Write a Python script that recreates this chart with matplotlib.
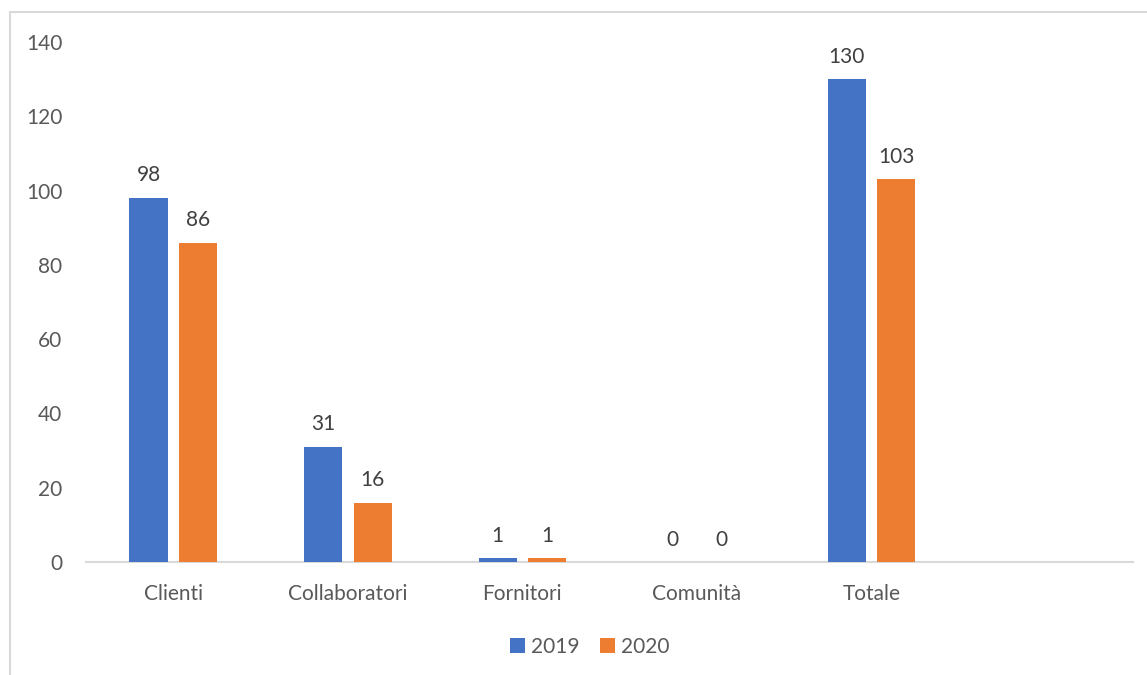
import matplotlib.pyplot as plt
import matplotlib.patches as patches
import numpy as np

# categories (last slot is empty, as in the original chart)
categories = ["Clienti", "Collaboratori", "Fornitori", "Comunità", "Totale", ""]
values_2019 = [98, 31, 1, 0, 130, None]
values_2020 = [86, 16, 1, 0, 103, None]
series_names = ["2019", "2020"]

plt.rcParams['font.family'] = ['Lato', 'DejaVu Sans']
text_col = '#595959'
blue = '#4472C4'
orange = '#ED7D31'
fs = 15

fig = plt.figure(figsize=(11.47, 6.75), dpi=100)
ax = fig.add_axes([0.075, 0.1674, 0.913, 0.7704])

# outer chart border (only left and top visible in the picture)
fig.add_artist(patches.Rectangle((10 / 1147, -0.1), 1.2, 1 - 12 / 675 + 0.1,
                                 transform=fig.transFigure, fill=False,
                                 edgecolor='#D9D9D9', linewidth=1.5))

x = np.arange(len(categories))
w = 0.218
off = 0.142

for vals, dx, col, name in [(values_2019, -off, blue, series_names[0]),
                            (values_2020, off, orange, series_names[1])]:
    xs = [xi + dx for xi, v in zip(x, vals) if v is not None]
    vs = [v for v in vals if v is not None]
    bars = ax.bar(xs, vs, width=w, color=col, label=name, zorder=3)
    for b, v in zip(bars, vs):
        ax.annotate(str(v), (b.get_x() + b.get_width() / 2, v),
                    xytext=(0, 9), textcoords='offset points',
                    ha='center', va='bottom', fontsize=fs, color='#404040')

ax.set_xlim(-0.5, len(categories) - 0.5)
ax.set_ylim(0, 140)
ax.set_yticks(np.arange(0, 141, 20))
ax.set_xticks(x)
ax.set_xticklabels(categories)

for s in ['top', 'right', 'left']:
    ax.spines[s].set_visible(False)
ax.spines['bottom'].set_color('#D9D9D9')
ax.spines['bottom'].set_linewidth(1.5)
ax.tick_params(axis='both', length=0, labelsize=fs, colors=text_col)
ax.tick_params(axis='y', pad=17)
ax.tick_params(axis='x', pad=16)

ax.legend(loc='center', bbox_to_anchor=(590 / 1147, 1 - 647 / 675),
          bbox_transform=fig.transFigure, ncol=2, frameon=False,
          fontsize=fs, labelcolor=text_col, handlelength=0.7, handleheight=0.7,
          handletextpad=0.3, columnspacing=1.0)

fig.savefig('out.png', dpi=100)
